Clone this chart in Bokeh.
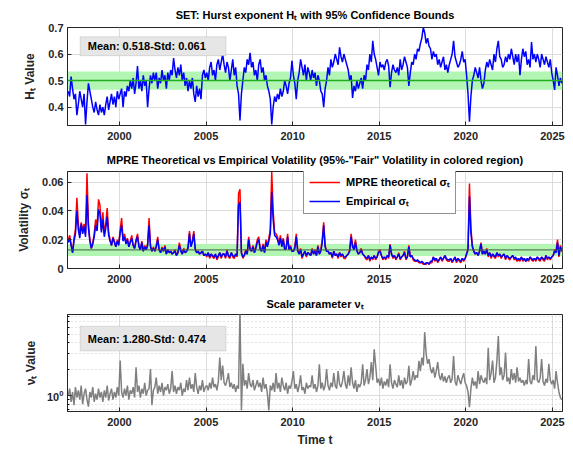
import numpy as np
from bokeh.plotting import figure
from bokeh.layouts import column
from bokeh.models import (Range1d, FixedTicker, Label, BoxAnnotation, Span, Legend,
                          LegendItem)
from bokeh.embed import file_html
from bokeh.resources import INLINE

# ---------------------------------------------------------------- data
START_YEAR = 1997
YEAR_TICKS = [2000, 2005, 2010, 2015, 2020, 2025]

# Hurst exponent H_t, monthly (Jan..Dec per row)
H_VALUES = [
    0.46, 0.44, 0.515, 0.47, 0.43, 0.45, 0.37, 0.41, 0.46, 0.43, 0.40, 0.45,   # 1997
    0.335, 0.42, 0.49, 0.46, 0.43, 0.40, 0.38, 0.42, 0.39, 0.37, 0.41, 0.38,   # 1998
    0.40, 0.37, 0.41, 0.44, 0.39, 0.42, 0.45, 0.41, 0.44, 0.40, 0.46, 0.43,    # 1999
    0.45, 0.47, 0.40, 0.46, 0.44, 0.48, 0.46, 0.50, 0.47, 0.51, 0.45, 0.49,    # 2000
    0.555, 0.47, 0.50, 0.46, 0.52, 0.48, 0.50, 0.40, 0.47, 0.52, 0.49, 0.53,   # 2001
    0.50, 0.53, 0.47, 0.51, 0.49, 0.54, 0.50, 0.52, 0.47, 0.53, 0.50, 0.54,    # 2002
    0.52, 0.585, 0.54, 0.51, 0.55, 0.52, 0.56, 0.50, 0.53, 0.48, 0.51, 0.46,   # 2003
    0.50, 0.47, 0.51, 0.45, 0.42, 0.48, 0.44, 0.47, 0.43, 0.52, 0.54, 0.51,    # 2004
    0.53, 0.50, 0.55, 0.57, 0.52, 0.54, 0.50, 0.56, 0.58, 0.54, 0.57, 0.60,    # 2005
    0.56, 0.53, 0.57, 0.55, 0.50, 0.54, 0.58, 0.52, 0.55, 0.48, 0.45, 0.35,    # 2006
    0.45, 0.50, 0.55, 0.53, 0.58, 0.56, 0.605, 0.55, 0.57, 0.52, 0.54, 0.50,   # 2007
    0.56, 0.58, 0.53, 0.55, 0.50, 0.52, 0.48, 0.46, 0.43, 0.335, 0.40, 0.44,   # 2008
    0.42, 0.45, 0.43, 0.47, 0.44, 0.46, 0.50, 0.48, 0.45, 0.49, 0.51, 0.575,   # 2009
    0.52, 0.49, 0.43, 0.50, 0.53, 0.58, 0.55, 0.52, 0.56, 0.50, 0.55, 0.53,    # 2010
    0.50, 0.54, 0.51, 0.53, 0.48, 0.52, 0.50, 0.46, 0.45, 0.40, 0.47, 0.50,    # 2011
    0.55, 0.52, 0.58, 0.55, 0.57, 0.60, 0.58, 0.56, 0.625, 0.59, 0.57, 0.60,   # 2012
    0.58, 0.56, 0.54, 0.50, 0.52, 0.435, 0.48, 0.46, 0.50, 0.47, 0.49, 0.51,   # 2013
    0.47, 0.52, 0.50, 0.56, 0.54, 0.60, 0.57, 0.65, 0.60, 0.58, 0.55, 0.52,    # 2014
    0.57, 0.55, 0.56, 0.54, 0.57, 0.58, 0.555, 0.475, 0.53, 0.56, 0.54, 0.53,  # 2015
    0.55, 0.52, 0.58, 0.54, 0.56, 0.59, 0.57, 0.55, 0.48, 0.53, 0.57, 0.56,    # 2016
    0.60, 0.58, 0.62, 0.61, 0.64, 0.66, 0.70, 0.68, 0.64, 0.66, 0.63, 0.62,    # 2017
    0.58, 0.61, 0.59, 0.60, 0.56, 0.58, 0.55, 0.57, 0.59, 0.54, 0.56, 0.53,    # 2018
    0.56, 0.58, 0.60, 0.65, 0.59, 0.57, 0.55, 0.56, 0.58, 0.61, 0.57, 0.58,    # 2019
    0.52, 0.45, 0.345, 0.44, 0.50, 0.52, 0.55, 0.53, 0.51, 0.55, 0.50, 0.47,   # 2020
    0.49, 0.54, 0.57, 0.55, 0.58, 0.56, 0.54, 0.60, 0.57, 0.62, 0.65, 0.59,    # 2021
    0.58, 0.55, 0.56, 0.59, 0.57, 0.60, 0.58, 0.62, 0.59, 0.56, 0.60, 0.57,    # 2022
    0.60, 0.52, 0.58, 0.62, 0.59, 0.61, 0.56, 0.58, 0.55, 0.645, 0.58, 0.60,   # 2023
    0.57, 0.60, 0.58, 0.55, 0.60, 0.58, 0.56, 0.59, 0.57, 0.55, 0.58, 0.53,    # 2024
    0.50, 0.465, 0.55, 0.52, 0.48, 0.51, 0.49,                                 # 2025
]
H_MEAN, H_STD = 0.518, 0.061
H_REF = 0.5
H_BAND = (0.466, 0.534)

# Empirical volatility sigma_t
SIGMA_EMPIRICAL = [
    0.018, 0.021, 0.016, 0.011, 0.019, 0.024, 0.040, 0.027, 0.021, 0.031, 0.024, 0.029,  # 1997
    0.022, 0.051, 0.028, 0.019, 0.014, 0.017, 0.022, 0.030, 0.026, 0.041, 0.038, 0.025,  # 1998
    0.034, 0.022, 0.028, 0.036, 0.023, 0.019, 0.016, 0.021, 0.018, 0.015, 0.019, 0.016,  # 1999
    0.025, 0.030, 0.019, 0.022, 0.017, 0.020, 0.015, 0.018, 0.021, 0.016, 0.014, 0.019,  # 2000
    0.022, 0.015, 0.013, 0.018, 0.012, 0.015, 0.013, 0.016, 0.030, 0.015, 0.012, 0.014,  # 2001
    0.012, 0.015, 0.020, 0.013, 0.011, 0.014, 0.012, 0.015, 0.010, 0.013, 0.011, 0.012,  # 2002
    0.010, 0.011, 0.012, 0.009, 0.011, 0.016, 0.012, 0.010, 0.013, 0.011, 0.012, 0.014,  # 2003
    0.024, 0.015, 0.018, 0.024, 0.013, 0.011, 0.012, 0.010, 0.011, 0.012, 0.009, 0.010,  # 2004
    0.009, 0.011, 0.008, 0.010, 0.009, 0.008, 0.010, 0.007, 0.009, 0.011, 0.008, 0.010,  # 2005
    0.010, 0.008, 0.012, 0.009, 0.008, 0.011, 0.009, 0.008, 0.010, 0.009, 0.044, 0.046,  # 2006
    0.011, 0.008, 0.009, 0.012, 0.010, 0.020, 0.013, 0.012, 0.015, 0.011, 0.014, 0.018,  # 2007
    0.020, 0.013, 0.012, 0.016, 0.011, 0.018, 0.015, 0.019, 0.024, 0.053, 0.034, 0.023,  # 2008
    0.022, 0.020, 0.016, 0.021, 0.015, 0.020, 0.013, 0.014, 0.022, 0.013, 0.015, 0.012,  # 2009
    0.012, 0.014, 0.022, 0.012, 0.010, 0.013, 0.008, 0.010, 0.012, 0.009, 0.011, 0.010,  # 2010
    0.009, 0.013, 0.010, 0.012, 0.009, 0.015, 0.010, 0.012, 0.018, 0.030, 0.015, 0.012,  # 2011
    0.012, 0.010, 0.011, 0.008, 0.012, 0.009, 0.010, 0.008, 0.011, 0.009, 0.010, 0.008,  # 2012
    0.008, 0.009, 0.010, 0.012, 0.022, 0.015, 0.013, 0.018, 0.012, 0.010, 0.011, 0.013,  # 2013
    0.010, 0.009, 0.008, 0.007, 0.009, 0.006, 0.008, 0.007, 0.009, 0.007, 0.008, 0.011,  # 2014
    0.012, 0.009, 0.007, 0.008, 0.007, 0.009, 0.008, 0.016, 0.010, 0.008, 0.009, 0.007,  # 2015
    0.008, 0.010, 0.007, 0.008, 0.009, 0.011, 0.007, 0.008, 0.015, 0.008, 0.009, 0.007,  # 2016
    0.006, 0.005, 0.006, 0.005, 0.004, 0.005, 0.004, 0.003, 0.004, 0.004, 0.003, 0.005,  # 2017
    0.005, 0.008, 0.006, 0.007, 0.005, 0.006, 0.008, 0.006, 0.007, 0.009, 0.007, 0.006,  # 2018
    0.006, 0.007, 0.005, 0.006, 0.008, 0.005, 0.007, 0.006, 0.005, 0.007, 0.006, 0.007,  # 2019
    0.010, 0.013, 0.050, 0.025, 0.015, 0.012, 0.010, 0.011, 0.009, 0.012, 0.017, 0.010,  # 2020
    0.012, 0.010, 0.013, 0.009, 0.011, 0.008, 0.010, 0.009, 0.008, 0.011, 0.009, 0.010,  # 2021
    0.008, 0.009, 0.010, 0.007, 0.009, 0.008, 0.007, 0.008, 0.009, 0.007, 0.008, 0.006,  # 2022
    0.007, 0.006, 0.008, 0.006, 0.007, 0.005, 0.007, 0.006, 0.008, 0.007, 0.006, 0.007,  # 2023
    0.006, 0.008, 0.007, 0.006, 0.008, 0.007, 0.006, 0.009, 0.007, 0.008, 0.007, 0.008,  # 2024
    0.009, 0.012, 0.011, 0.018, 0.009, 0.015, 0.012,                                     # 2025
]

# MPRE theoretical volatility sigma_t
SIGMA_THEORETICAL = [
    0.020, 0.023, 0.017, 0.011, 0.021, 0.027, 0.049, 0.031, 0.023, 0.032, 0.026, 0.031,  # 1997
    0.024, 0.066, 0.031, 0.020, 0.014, 0.018, 0.024, 0.034, 0.029, 0.048, 0.044, 0.027,  # 1998
    0.039, 0.024, 0.031, 0.042, 0.025, 0.020, 0.016, 0.022, 0.019, 0.015, 0.020, 0.017,  # 1999
    0.027, 0.035, 0.020, 0.024, 0.018, 0.021, 0.015, 0.019, 0.023, 0.016, 0.014, 0.020,  # 2000
    0.024, 0.016, 0.013, 0.019, 0.012, 0.016, 0.013, 0.017, 0.035, 0.016, 0.012, 0.015,  # 2001
    0.012, 0.016, 0.022, 0.013, 0.011, 0.015, 0.012, 0.016, 0.010, 0.013, 0.011, 0.012,  # 2002
    0.010, 0.011, 0.013, 0.009, 0.011, 0.018, 0.013, 0.010, 0.014, 0.011, 0.012, 0.015,  # 2003
    0.026, 0.016, 0.019, 0.026, 0.014, 0.011, 0.012, 0.010, 0.011, 0.012, 0.009, 0.010,  # 2004
    0.008, 0.011, 0.007, 0.010, 0.008, 0.007, 0.010, 0.006, 0.008, 0.011, 0.007, 0.010,  # 2005
    0.010, 0.007, 0.013, 0.008, 0.007, 0.011, 0.008, 0.007, 0.010, 0.008, 0.052, 0.055,  # 2006
    0.011, 0.007, 0.009, 0.013, 0.010, 0.022, 0.014, 0.012, 0.016, 0.011, 0.015, 0.020,  # 2007
    0.022, 0.014, 0.012, 0.017, 0.011, 0.020, 0.016, 0.021, 0.027, 0.067, 0.040, 0.025,  # 2008
    0.024, 0.022, 0.017, 0.023, 0.016, 0.021, 0.013, 0.014, 0.024, 0.013, 0.016, 0.012,  # 2009
    0.012, 0.015, 0.024, 0.013, 0.010, 0.014, 0.007, 0.010, 0.012, 0.008, 0.011, 0.010,  # 2010
    0.009, 0.014, 0.010, 0.013, 0.009, 0.016, 0.010, 0.013, 0.020, 0.032, 0.016, 0.012,  # 2011
    0.012, 0.010, 0.011, 0.007, 0.012, 0.009, 0.010, 0.007, 0.011, 0.008, 0.010, 0.007,  # 2012
    0.007, 0.009, 0.010, 0.013, 0.024, 0.016, 0.014, 0.020, 0.013, 0.010, 0.011, 0.014,  # 2013
    0.010, 0.009, 0.007, 0.006, 0.009, 0.005, 0.008, 0.006, 0.009, 0.006, 0.008, 0.012,  # 2014
    0.013, 0.009, 0.006, 0.008, 0.006, 0.009, 0.007, 0.017, 0.010, 0.007, 0.009, 0.006,  # 2015
    0.008, 0.011, 0.006, 0.008, 0.009, 0.012, 0.006, 0.008, 0.016, 0.008, 0.009, 0.006,  # 2016
    0.005, 0.005, 0.005, 0.004, 0.004, 0.004, 0.003, 0.003, 0.003, 0.004, 0.003, 0.004,  # 2017
    0.004, 0.008, 0.005, 0.007, 0.004, 0.006, 0.008, 0.005, 0.007, 0.009, 0.006, 0.005,  # 2018
    0.005, 0.007, 0.004, 0.006, 0.008, 0.004, 0.007, 0.005, 0.004, 0.007, 0.005, 0.007,  # 2019
    0.010, 0.014, 0.059, 0.028, 0.016, 0.012, 0.010, 0.011, 0.009, 0.012, 0.018, 0.010,  # 2020
    0.012, 0.010, 0.014, 0.008, 0.011, 0.007, 0.010, 0.008, 0.007, 0.011, 0.008, 0.010,  # 2021
    0.007, 0.009, 0.010, 0.006, 0.009, 0.007, 0.006, 0.008, 0.009, 0.006, 0.007, 0.005,  # 2022
    0.006, 0.005, 0.008, 0.005, 0.007, 0.005, 0.006, 0.005, 0.008, 0.006, 0.005, 0.007,  # 2023
    0.005, 0.008, 0.006, 0.005, 0.008, 0.006, 0.005, 0.009, 0.006, 0.008, 0.006, 0.008,  # 2024
    0.009, 0.013, 0.012, 0.020, 0.008, 0.016, 0.012,                                     # 2025
]
VOL_REF = 0.0129
VOL_BAND = (0.0086, 0.0170)

# Scale parameter nu_t
NU_VALUES = [
    1.00, 1.20, 0.85, 1.10, 0.78, 1.25, 0.95, 1.15, 0.90, 1.30, 0.80, 1.05,  # 1997
    1.20, 0.90, 0.75, 1.10, 0.95, 1.25, 0.85, 1.05, 0.90, 1.20, 0.95, 1.10,  # 1998
    0.85, 1.15, 0.95, 1.30, 0.88, 1.05, 1.20, 0.90, 1.10, 0.95, 1.25, 1.00,  # 1999
    2.50, 1.10, 0.95, 1.20, 1.00, 1.30, 0.90, 1.15, 1.05, 1.25, 0.95, 2.10,  # 2000
    1.10, 1.30, 0.95, 1.20, 1.05, 1.40, 1.00, 1.15, 1.20, 2.00, 0.78, 1.15,  # 2001
    1.25, 1.60, 1.05, 1.30, 1.10, 1.40, 1.00, 1.25, 1.15, 1.35, 1.05, 1.20,  # 2002
    1.90, 1.10, 1.30, 1.05, 1.25, 1.15, 1.40, 1.00, 1.20, 1.10, 1.50, 1.15,  # 2003
    1.60, 1.20, 1.35, 1.10, 1.80, 1.25, 1.05, 1.30, 1.15, 1.50, 1.10, 1.25,  # 2004
    1.30, 1.15, 1.40, 1.20, 1.60, 1.25, 1.35, 1.15, 1.45, 2.70, 1.50, 2.20,  # 2005
    1.40, 1.30, 1.50, 1.80, 1.25, 1.40, 1.20, 1.35, 1.10, 1.30, 1.20, 9.50,  # 2006
    0.68, 2.30, 1.30, 1.50, 1.20, 1.80, 1.35, 1.25, 1.50, 1.15, 1.30, 1.50,  # 2007
    1.25, 1.40, 1.10, 1.60, 1.20, 1.35, 1.05, 0.68, 1.30, 1.15, 1.40, 1.10,  # 2008
    1.80, 1.20, 1.40, 1.10, 1.60, 1.30, 1.15, 1.40, 1.05, 1.30, 1.20, 1.45,  # 2009
    1.90, 1.20, 1.35, 1.10, 1.30, 1.70, 1.15, 1.25, 1.05, 1.40, 1.20, 1.30,  # 2010
    1.25, 1.70, 1.20, 1.35, 1.10, 1.30, 2.27, 1.20, 1.40, 1.15, 1.30, 2.00,  # 2011
    1.30, 1.15, 1.40, 1.25, 1.80, 1.30, 1.20, 1.90, 1.35, 1.25, 1.45, 1.90,  # 2012
    1.35, 1.20, 1.70, 1.30, 2.10, 1.40, 1.20, 1.50, 1.10, 1.35, 1.25, 1.40,  # 2013
    2.27, 1.30, 1.50, 2.00, 1.35, 1.60, 2.40, 1.50, 3.36, 2.20, 1.40, 1.55,  # 2014
    1.30, 1.60, 1.20, 1.45, 1.30, 1.55, 1.25, 2.27, 1.40, 1.20, 1.50, 1.35,  # 2015
    1.25, 1.70, 1.30, 1.50, 1.20, 1.60, 1.35, 1.45, 2.18, 1.30, 1.50, 1.90,  # 2016
    1.50, 1.70, 1.60, 2.48, 1.90, 2.70, 2.20, 5.26, 2.95, 2.30, 2.60, 2.00,  # 2017
    1.80, 2.10, 1.60, 1.90, 2.40, 1.70, 1.50, 1.80, 1.45, 1.65, 1.40, 1.60,  # 2018
    1.70, 1.40, 1.55, 2.82, 1.45, 1.30, 1.70, 1.50, 1.35, 1.60, 1.80, 1.40,  # 2019
    1.30, 1.10, 0.74, 1.20, 1.60, 1.30, 1.45, 1.20, 1.90, 1.35, 1.70, 1.50,  # 2020
    1.40, 1.60, 1.35, 3.50, 1.50, 1.80, 2.50, 1.40, 1.60, 2.48, 4.74, 1.70,  # 2021
    2.10, 1.50, 1.70, 3.08, 1.45, 1.60, 1.35, 2.00, 1.50, 1.80, 1.40, 2.10,  # 2022
    1.45, 1.60, 1.40, 1.50, 1.30, 1.50, 1.35, 2.60, 1.45, 1.35, 1.70, 1.50,  # 2023
    3.66, 1.50, 1.40, 1.60, 2.60, 1.45, 1.30, 1.55, 1.40, 2.30, 1.50, 1.35,  # 2024
    1.50, 1.20, 1.90, 1.40, 1.10, 0.95, 0.90,                                # 2025
]
NU_MEAN, NU_STD = 1.280, 0.474

# monthly time axis (mid-month)
t = START_YEAR + (np.arange(len(H_VALUES)) + 0.5) / 12.0

# ---------------------------------------------------------------- styling
FONT = "Liberation Sans"
AX_COLOR = "#262626"
GRID_COLOR = "#dcdcdc"
BAND_GREEN = "#b3f5b3"
X_RANGE = (1997.0, 2025.58)


def make_panel(height, top, bottom, y_range, title, y_label, log=False, title_gap=10):
    p = figure(width=573, height=height,
               x_range=Range1d(*X_RANGE), y_range=Range1d(*y_range),
               y_axis_type="log" if log else "linear",
               output_backend="svg", toolbar_location=None,
               min_border_left=67, min_border_right=11,
               min_border_top=top, min_border_bottom=bottom)
    p.background_fill_color = "white"
    p.border_fill_color = "white"
    p.outline_line_color = AX_COLOR
    p.outline_line_width = 1

    p.title.text = title
    p.title.align = "center"
    p.title.text_font = FONT
    p.title.text_font_style = "bold"
    p.title.text_font_size = "11px"
    p.title.text_color = "black"
    p.title.standoff = title_gap

    xt = FixedTicker(ticks=YEAR_TICKS)
    p.xaxis.ticker = xt
    p.xgrid.ticker = xt
    p.yaxis.axis_label = y_label

    for ax in (p.xaxis[0], p.yaxis[0]):
        ax.major_tick_in = 4
        ax.major_tick_out = 0
        ax.minor_tick_in = 0
        ax.minor_tick_out = 0
        ax.axis_line_color = AX_COLOR
        ax.major_tick_line_color = AX_COLOR
        ax.major_label_text_font = FONT
        ax.major_label_text_font_style = "bold"
        ax.major_label_text_font_size = "11px"
        ax.major_label_text_color = AX_COLOR
        ax.major_label_standoff = 4
        ax.axis_label_text_font = FONT
        ax.axis_label_text_font_style = "bold"
        ax.axis_label_text_font_size = "12px"
        ax.axis_label_text_color = AX_COLOR
        ax.axis_label_standoff = 8
    p.xaxis.major_label_standoff = 6

    for g in (p.xgrid[0], p.ygrid[0]):
        g.grid_line_color = GRID_COLOR
        g.grid_line_width = 1
    return p


# ---------------------------------------------------------------- Hurst panel
p1 = make_panel(145, 26, 20, (0.331, 0.7),
                "SET: Hurst exponent H\u209c with 95% Confidence Bounds",
                "H\u209c Value", title_gap=13)
ht = FixedTicker(ticks=[0.4, 0.5, 0.6, 0.7])
p1.yaxis.ticker = ht
p1.ygrid.ticker = ht
p1.add_layout(BoxAnnotation(bottom=H_BAND[0], top=H_BAND[1], fill_color=BAND_GREEN,
                            fill_alpha=1.0, line_color=None, level="underlay"))
p1.add_layout(Span(location=H_REF, dimension="width", line_color="#1fae1f",
                   line_width=1.5))
p1.line(t, H_VALUES, line_color="#0000ff", line_width=1.5)
p1.add_layout(BoxAnnotation(left=1997.73, right=2006.15, bottom=0.594, top=0.665,
                            fill_color="#e6e6e6", fill_alpha=1.0,
                            line_color="#a0a0a0", line_width=1))
p1.add_layout(Label(x=1998.17, y=0.629, text=f"Mean: {H_MEAN:.3f}-Std: {H_STD:.3f}",
                    text_font=FONT, text_font_style="bold", text_font_size="11px",
                    text_baseline="middle", text_color="black"))

# ---------------------------------------------------------------- volatility panel
p2 = make_panel(145, 24, 22, (0.0, 0.0673),
                'MPRE Theoretical vs Empirical Volatility (95%-"Fair" Volatility in colored region)',
                "Volatility \u03c3\u209c", title_gap=12)
vt = FixedTicker(ticks=[0, 0.02, 0.04, 0.06])
p2.yaxis.ticker = vt
p2.ygrid.ticker = vt
p2.yaxis.major_label_overrides = {0: "0", 0.02: "0.02", 0.04: "0.04", 0.06: "0.06"}
p2.add_layout(BoxAnnotation(bottom=VOL_BAND[0], top=VOL_BAND[1], fill_color=BAND_GREEN,
                            fill_alpha=1.0, line_color=None, level="underlay"))
p2.add_layout(Span(location=VOL_REF, dimension="width", line_color="#3f5f3f",
                   line_width=1))
r_theo = p2.line(t, SIGMA_THEORETICAL, line_color="#ff0000", line_width=1.5)
r_emp = p2.line(t, SIGMA_EMPIRICAL, line_color="#0000ff", line_width=1.5)
legend = Legend(items=[LegendItem(label="MPRE theoretical \u03c3\u209c", renderers=[r_theo]),
                       LegendItem(label="Empirical \u03c3\u209c", renderers=[r_emp])],
                location=(236, 54), orientation="vertical")
legend.label_text_font = FONT
legend.label_text_font_style = "bold"
legend.label_text_font_size = "11px"
legend.label_text_color = "black"
legend.border_line_color = AX_COLOR
legend.border_line_width = 1
legend.background_fill_color = "white"
legend.background_fill_alpha = 1.0
legend.padding = 5
legend.spacing = 4
legend.margin = 0
legend.glyph_width = 31
legend.glyph_height = 14
legend.label_height = 14
legend.label_standoff = 6
p2.add_layout(legend)

# ---------------------------------------------------------------- scale parameter panel
p3 = make_panel(160, 23, 39, (0.66, 8.35),
                "Scale parameter \u03bd\u209c", "\u03bd\u209c Value", log=True, title_gap=10)
lt = FixedTicker(ticks=[1], minor_ticks=[0.7, 0.8, 0.9, 2, 3, 4, 5, 6, 7, 8])
p3.yaxis.ticker = lt
p3.ygrid.ticker = lt
p3.yaxis.minor_tick_in = 2
p3.yaxis.minor_tick_out = 0
p3.yaxis.axis_label_standoff = 6
p3.ygrid.minor_grid_line_color = "#c8c8c8"
p3.ygrid.minor_grid_line_dash = "1 3"
p3.ygrid.minor_grid_line_width = 1
p3.xaxis.axis_label = "Time t"
p3.xaxis.axis_label_standoff = 4
p3.line(t, NU_VALUES, line_color="#808080", line_width=1.5)
p3.add_layout(BoxAnnotation(left=1997.73, right=2006.15, bottom=3.22, top=6.15,
                            fill_color="#e6e6e6", fill_alpha=1.0,
                            line_color="#a0a0a0", line_width=1))
p3.add_layout(Label(x=1998.17, y=4.45, text=f"Mean: {NU_MEAN:.3f}-Std: {NU_STD:.3f}",
                    text_font=FONT, text_font_style="bold", text_font_size="11px",
                    text_baseline="middle", text_color="black"))

layout = column(p1, p2, p3, spacing=0)
open("out.html", "w").write(file_html(layout, INLINE))
